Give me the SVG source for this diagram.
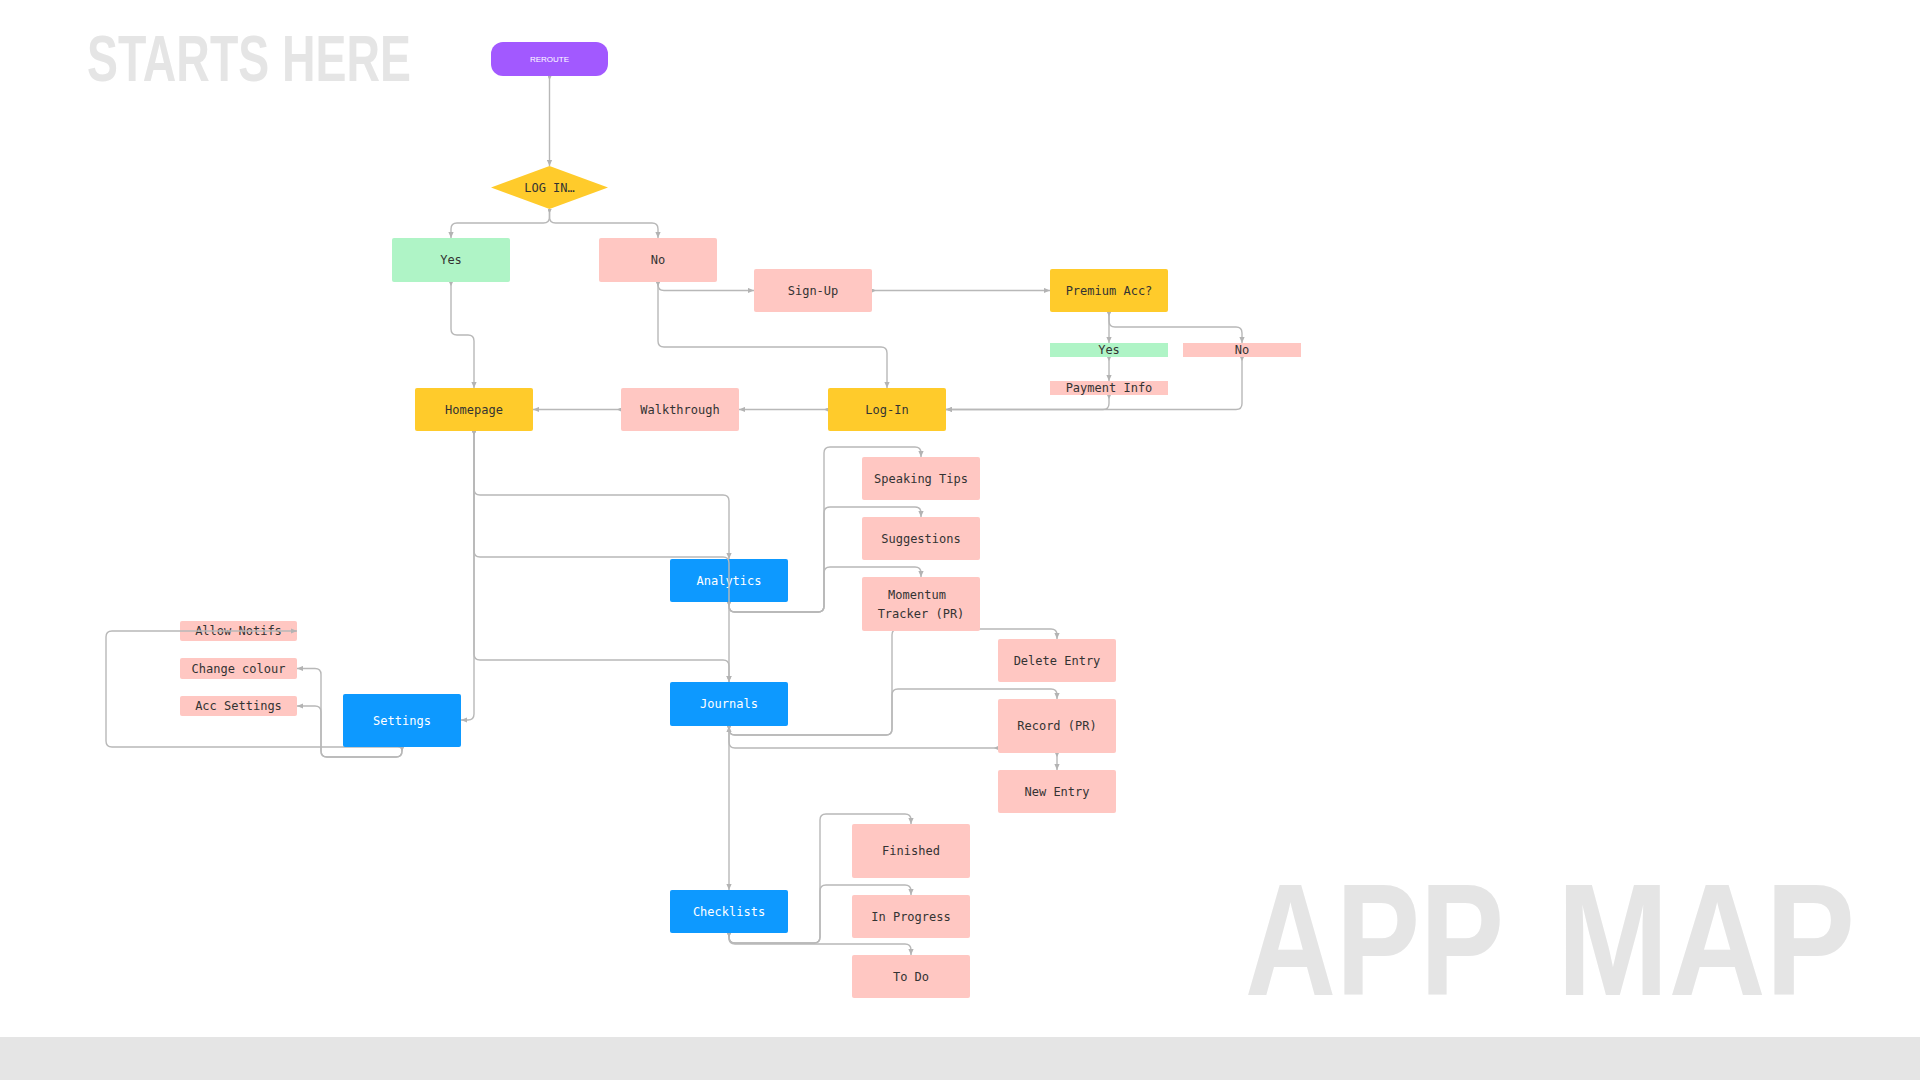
<svg xmlns="http://www.w3.org/2000/svg" width="1920" height="1080" viewBox="0 0 1920 1080">
<style>
.n rect,.n polygon{stroke:none}
.t{font-family:"DejaVu Sans Mono","Liberation Mono",monospace;font-size:12px;fill:#333;text-anchor:middle;dominant-baseline:central}
.w{fill:#fff}
.pink{fill:#FFC7C2}
.green{fill:#AFF4C6}
.yellow{fill:#FFCB2B}
.blue{fill:#0D99FF}
.c path{fill:none;stroke:#B8B8B8;stroke-width:1.4;marker-end:url(#arr);marker-start:url(#st)}
.big{font-family:"Liberation Sans",Arial,sans-serif;font-weight:bold;fill:#E5E5E5}
</style>
<defs>
<marker id="arr" viewBox="0 0 6 6" refX="6" refY="3" markerWidth="6" markerHeight="6" markerUnits="userSpaceOnUse" orient="auto"><path d="M0,0.4 L6,3 L0,5.6 z" fill="#B3B3B3"/></marker>
<marker id="st" viewBox="0 0 4 4" refX="0" refY="2" markerWidth="4" markerHeight="4" markerUnits="userSpaceOnUse" orient="auto"><path d="M0,0 L4,2 L0,4 z" fill="#B3B3B3"/></marker>
</defs>
<rect x="0" y="0" width="1920" height="1080" fill="#fff"/>
<rect x="0" y="1037" width="1920" height="43" fill="#E5E5E5"/>
<text class="big" x="87" y="81" font-size="64" textLength="324" lengthAdjust="spacingAndGlyphs">STARTS HERE</text>
<text class="big" x="1245" y="995" font-size="159" textLength="259" lengthAdjust="spacingAndGlyphs">APP</text>
<text class="big" x="1557" y="995" font-size="159" textLength="298" lengthAdjust="spacingAndGlyphs">MAP</text>

<g id="analytics" class="n"><rect class="blue" x="670" y="559" width="118" height="43" rx="2"/><text class="t w" x="729" y="580.5">Analytics</text></g>
<g id="allow-notifs" class="n"><rect class="pink" x="180" y="621" width="117" height="20" rx="2"/><text class="t" x="238.5" y="631">Allow Notifs</text></g>

<g id="connectors" class="c">
<path d="M549.5,76 V166"/>
<path d="M549.5,209 V217 q0,6 -6,6 H457 q-6,0 -6,6 V238"/>
<path d="M549.5,209 V217 q0,6 6,6 H652 q6,0 6,6 V238"/>
<path d="M451,282 V329 q0,6 6,6 H468 q6,0 6,6 V388"/>
<path d="M658,282 V284.5 q0,6 6,6 H754"/>
<path d="M658,282 V341 q0,6 6,6 H881 q6,0 6,6 V388"/>
<path d="M872,290.5 H1050"/>
<path d="M1109,312 V343"/>
<path d="M1109,312 V321 q0,6 6,6 H1236 q6,0 6,6 V343"/>
<path d="M1109,357 V381"/>
<path d="M1109,395 V403.5 q0,6 -6,6 H946"/>
<path d="M1242,357 V403.5 q0,6 -6,6 H946"/>
<path d="M828,409.5 H739"/>
<path d="M621,409.5 H533"/>
<path d="M474,431 V489 q0,6 6,6 H723 q6,0 6,6 V559"/>
<path d="M474,431 V551 q0,6 6,6 H723 q6,0 6,6 V682"/>
<path d="M474,431 V654 q0,6 6,6 H723 q6,0 6,6 V682"/>
<path d="M474,431 V714 q0,6 -6,6 H461"/>
<path d="M402,747 V751 q0,6 -6,6 H327 q-6,0 -6,-6 V674.5 q0,-6 -6,-6 H297"/>
<path d="M402,747 V751 q0,6 -6,6 H327 q-6,0 -6,-6 V712 q0,-6 -6,-6 H297"/>
<path d="M402,747 H112 q-6,0 -6,-6 V637 q0,-6 6,-6 H297"/>
<path d="M729,602 V606 q0,6 6,6 H818 q6,0 6,-6 V453 q0,-6 6,-6 H915 q6,0 6,6 V457"/>
<path d="M729,602 V606 q0,6 6,6 H818 q6,0 6,-6 V513 q0,-6 6,-6 H915 q6,0 6,6 V517"/>
<path d="M729,602 V606 q0,6 6,6 H818 q6,0 6,-6 V573 q0,-6 6,-6 H915 q6,0 6,6 V577"/>
<path d="M729,726 V729 q0,6 6,6 H886 q6,0 6,-6 V635 q0,-6 6,-6 H1051 q6,0 6,6 V639"/>
<path d="M729,726 V729 q0,6 6,6 H886 q6,0 6,-6 V695 q0,-6 6,-6 H1051 q6,0 6,6 V699"/>
<path d="M998,748 H735 q-6,0 -6,-6 V726"/>
<path d="M1057,753 V770"/>
<path d="M729,726 V890"/>
<path d="M729,933 V937 q0,6 6,6 H814 q6,0 6,-6 V820 q0,-6 6,-6 H905 q6,0 6,6 V824"/>
<path d="M729,933 V937 q0,6 6,6 H814 q6,0 6,-6 V891 q0,-6 6,-6 H905 q6,0 6,6 V895"/>
<path d="M729,933 V938 q0,6 6,6 H905 q6,0 6,6 V955"/>
</g>

<g id="reroute" class="n"><rect x="491" y="42" width="117" height="34" rx="12" fill="#A259FF"/><text x="549.5" y="59" font-family="Liberation Sans,Arial,sans-serif" font-size="8" fill="#fff" text-anchor="middle" dominant-baseline="central">REROUTE</text></g>
<g id="log-in-decision" class="n"><polygon class="yellow" points="549.5,166 608,187.5 549.5,209 491,187.5" stroke-linejoin="round"/><text class="t" x="549.5" y="188">LOG IN…</text></g>
<g id="yes" class="n"><rect class="green" x="392" y="238" width="118" height="44" rx="2"/><text class="t" x="451" y="260">Yes</text></g>
<g id="no" class="n"><rect class="pink" x="599" y="238" width="118" height="44" rx="2"/><text class="t" x="658" y="260">No</text></g>
<g id="sign-up" class="n"><rect class="pink" x="754" y="269" width="118" height="43" rx="2"/><text class="t" x="813" y="290.5">Sign-Up</text></g>
<g id="premium" class="n"><rect class="yellow" x="1050" y="269" width="118" height="43" rx="2"/><text class="t" x="1109" y="290.5">Premium Acc?</text></g>
<g id="premium-yes" class="n"><rect class="green" x="1050" y="343" width="118" height="14"/><text class="t" x="1109" y="350">Yes</text></g>
<g id="premium-no" class="n"><rect class="pink" x="1183" y="343" width="118" height="14"/><text class="t" x="1242" y="350">No</text></g>
<g id="payment-info" class="n"><rect class="pink" x="1050" y="381" width="118" height="14"/><text class="t" x="1109" y="388">Payment Info</text></g>
<g id="homepage" class="n"><rect class="yellow" x="415" y="388" width="118" height="43" rx="2"/><text class="t" x="474" y="409.5">Homepage</text></g>
<g id="walkthrough" class="n"><rect class="pink" x="621" y="388" width="118" height="43" rx="2"/><text class="t" x="680" y="409.5">Walkthrough</text></g>
<g id="log-in" class="n"><rect class="yellow" x="828" y="388" width="118" height="43" rx="2"/><text class="t" x="887" y="409.5">Log-In</text></g>
<g id="journals" class="n"><rect class="blue" x="670" y="682" width="118" height="44" rx="2"/><text class="t w" x="729" y="704">Journals</text></g>
<g id="checklists" class="n"><rect class="blue" x="670" y="890" width="118" height="43" rx="2"/><text class="t w" x="729" y="911.5">Checklists</text></g>
<g id="settings" class="n"><rect class="blue" x="343" y="694" width="118" height="53" rx="2"/><text class="t w" x="402" y="720.5">Settings</text></g>
<g id="change-colour" class="n"><rect class="pink" x="180" y="658" width="117" height="21" rx="2"/><text class="t" x="238.5" y="668.5">Change colour</text></g>
<g id="acc-settings" class="n"><rect class="pink" x="180" y="696" width="117" height="20" rx="2"/><text class="t" x="238.5" y="706">Acc Settings</text></g>
<g id="speaking-tips" class="n"><rect class="pink" x="862" y="457" width="118" height="43" rx="2"/><text class="t" x="921" y="478.5">Speaking Tips</text></g>
<g id="suggestions" class="n"><rect class="pink" x="862" y="517" width="118" height="43" rx="2"/><text class="t" x="921" y="538.5">Suggestions</text></g>
<g id="momentum-tracker" class="n"><rect class="pink" x="862" y="577" width="118" height="54" rx="2"/><text class="t" x="917" y="595">Momentum</text><text class="t" x="921" y="613.5">Tracker (PR)</text></g>
<g id="delete-entry" class="n"><rect class="pink" x="998" y="639" width="118" height="43" rx="2"/><text class="t" x="1057" y="660.5">Delete Entry</text></g>
<g id="record" class="n"><rect class="pink" x="998" y="699" width="118" height="54" rx="2"/><text class="t" x="1057" y="726">Record (PR)</text></g>
<g id="new-entry" class="n"><rect class="pink" x="998" y="770" width="118" height="43" rx="2"/><text class="t" x="1057" y="791.5">New Entry</text></g>
<g id="finished" class="n"><rect class="pink" x="852" y="824" width="118" height="54" rx="2"/><text class="t" x="911" y="851">Finished</text></g>
<g id="in-progress" class="n"><rect class="pink" x="852" y="895" width="118" height="43" rx="2"/><text class="t" x="911" y="916.5">In Progress</text></g>
<g id="to-do" class="n"><rect class="pink" x="852" y="955" width="118" height="43" rx="2"/><text class="t" x="911" y="976.5">To Do</text></g>
</svg>
